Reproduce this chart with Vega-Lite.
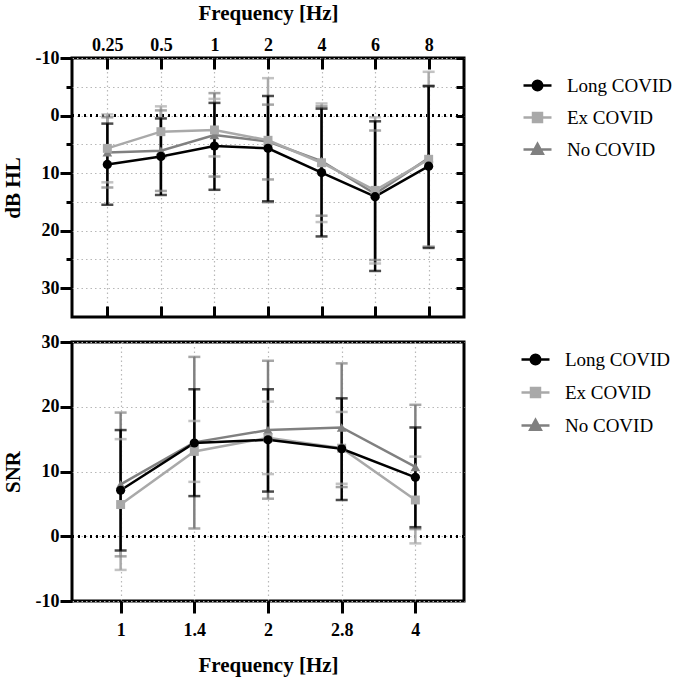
{
  "$schema": "https://vega.github.io/schema/vega-lite/v6.json",
  "padding": {"left": 0, "top": 0, "right": 5, "bottom": 0},
  "config": {
    "font": "Liberation Serif",
    "view": {"stroke": "black", "strokeWidth": 3},
    "axis": {"labelFont": "Liberation Serif", "titleFont": "Liberation Serif", "labelFontWeight": "bold", "titleFontWeight": "bold", "labelFontSize": 18, "titleFontSize": 21, "labelColor": "black", "titleColor": "black", "tickColor": "black", "tickWidth": 3, "domain": false, "gridColor": "#b8b8b8", "gridDash": [1.5, 3], "gridWidth": 1.2},
    "legend": {"labelFont": "Liberation Serif", "labelFontSize": 19, "labelColor": "black"}
  },
  "datasets": {
    "pta": [
      {"freq": "0.25", "group": "No COVID", "mean": 6.4, "lo": 0.3, "hi": 12.5},
      {"freq": "0.5", "group": "No COVID", "mean": 6.1, "lo": -0.9, "hi": 13.1},
      {"freq": "1", "group": "No COVID", "mean": 3.4, "lo": -3.9, "hi": 10.6},
      {"freq": "2", "group": "No COVID", "mean": 4.5, "lo": -1.9, "hi": 11.1},
      {"freq": "4", "group": "No COVID", "mean": 7.9, "lo": -1.6, "hi": 17.4},
      {"freq": "6", "group": "No COVID", "mean": 13.6, "lo": 2.6, "hi": 25.1},
      {"freq": "8", "group": "No COVID", "mean": 7.4, "lo": -5.2, "hi": 22.8},
      {"freq": "0.25", "group": "Ex COVID", "mean": 5.7, "lo": -0.2, "hi": 11.6},
      {"freq": "0.5", "group": "Ex COVID", "mean": 2.8, "lo": -1.6, "hi": 7.2},
      {"freq": "1", "group": "Ex COVID", "mean": 2.5, "lo": -2.9, "hi": 7.1},
      {"freq": "2", "group": "Ex COVID", "mean": 4.3, "lo": -6.5, "hi": 15.1},
      {"freq": "4", "group": "Ex COVID", "mean": 8.2, "lo": -2.1, "hi": 18.5},
      {"freq": "6", "group": "Ex COVID", "mean": 13.0, "lo": 0.3, "hi": 25.7},
      {"freq": "8", "group": "Ex COVID", "mean": 7.6, "lo": -7.6, "hi": 22.8},
      {"freq": "0.25", "group": "Long COVID", "mean": 8.5, "lo": 1.4, "hi": 15.5},
      {"freq": "0.5", "group": "Long COVID", "mean": 7.1, "lo": 0.5, "hi": 13.8},
      {"freq": "1", "group": "Long COVID", "mean": 5.3, "lo": -2.2, "hi": 12.9},
      {"freq": "2", "group": "Long COVID", "mean": 5.7, "lo": -3.4, "hi": 14.9},
      {"freq": "4", "group": "Long COVID", "mean": 9.9, "lo": -1.2, "hi": 21.0},
      {"freq": "6", "group": "Long COVID", "mean": 14.1, "lo": 1.0, "hi": 27.0},
      {"freq": "8", "group": "Long COVID", "mean": 8.8, "lo": -5.1, "hi": 23.0}
    ],
    "snr": [
      {"freq": "1", "group": "No COVID", "mean": 8.0, "lo": -3.1, "hi": 19.1},
      {"freq": "1.4", "group": "No COVID", "mean": 14.5, "lo": 1.2, "hi": 27.7},
      {"freq": "2", "group": "No COVID", "mean": 16.4, "lo": 5.8, "hi": 27.1},
      {"freq": "2.8", "group": "No COVID", "mean": 16.8, "lo": 7.6, "hi": 26.7},
      {"freq": "4", "group": "No COVID", "mean": 10.7, "lo": 1.1, "hi": 20.3},
      {"freq": "1", "group": "Ex COVID", "mean": 4.9, "lo": -5.2, "hi": 15.0},
      {"freq": "1.4", "group": "Ex COVID", "mean": 13.1, "lo": 8.4, "hi": 17.8},
      {"freq": "2", "group": "Ex COVID", "mean": 15.2, "lo": 9.6, "hi": 20.8},
      {"freq": "2.8", "group": "Ex COVID", "mean": 13.6, "lo": 8.1, "hi": 19.2},
      {"freq": "4", "group": "Ex COVID", "mean": 5.6, "lo": -1.1, "hi": 12.3},
      {"freq": "1", "group": "Long COVID", "mean": 7.1, "lo": -2.2, "hi": 16.4},
      {"freq": "1.4", "group": "Long COVID", "mean": 14.4, "lo": 6.2, "hi": 22.7},
      {"freq": "2", "group": "Long COVID", "mean": 14.9, "lo": 6.9, "hi": 22.7},
      {"freq": "2.8", "group": "Long COVID", "mean": 13.5, "lo": 5.6, "hi": 21.3},
      {"freq": "4", "group": "Long COVID", "mean": 9.1, "lo": 1.4, "hi": 16.8}
    ]
  },
  "vconcat": [
    {
      "width": 392,
      "height": 259,
      "data": {"name": "pta"},
      "resolve": {"axis": {"x": "independent", "y": "independent"}},
      "encoding": {
        "x": {"field": "freq", "type": "nominal", "sort": ["0.25", "0.5", "1", "2", "4", "6", "8"], "scale": {"type": "point", "padding": 0.66}, "axis": null},
        "color": {"field": "group", "type": "nominal", "scale": {"domain": ["Long COVID", "Ex COVID", "No COVID"], "range": ["#000000", "#a9a9a9", "#808080"]},
          "legend": {"title": null, "orient": "right", "offset": 44, "padding": 12, "symbolSize": 784, "labelOffset": 14, "rowPadding": 6,
            "encode": {"symbols": {"update": {
              "shape": {"signal": "datum.value === 'Long COVID' ? 'M-1,0H1M0.34,0A0.34,0.34,0,1,1,-0.34,0A0.34,0.34,0,1,1,0.34,0Z' : datum.value === 'Ex COVID' ? 'M-1,0H1M-0.32,-0.32H0.32V0.32H-0.32Z' : 'M-1,0H1M0,-0.4L0.38,0.3L-0.38,0.3Z'"},
              "fill": {"signal": "datum.value === 'Long COVID' ? '#000000' : datum.value === 'Ex COVID' ? '#a9a9a9' : '#808080'"},
              "stroke": {"signal": "datum.value === 'Long COVID' ? '#000000' : datum.value === 'Ex COVID' ? '#a9a9a9' : '#808080'"},
              "strokeWidth": {"value": 2.5},
              "opacity": {"value": 1}
            }}}}}
      },
      "layer": [
        {
          "mark": {"type": "rule", "color": "black", "strokeWidth": 2.4, "strokeDash": [2, 4]},
          "encoding": {"x": null, "color": null, "y": {"datum": 0, "type": "quantitative", "scale": {"domain": [-10, 35], "reverse": true, "nice": false}, "axis": null}}
        },
        {
          "mark": {"type": "rule", "strokeWidth": 2.5},
          "encoding": {
            "x": {"field": "freq", "type": "nominal", "sort": ["0.25", "0.5", "1", "2", "4", "6", "8"], "scale": {"type": "point", "padding": 0.66},
              "axis": {"orient": "top", "title": "Frequency [Hz]", "labelAngle": 0, "tickSize": -11, "labelPadding": 15, "titlePadding": 13, "grid": true}},
            "y": {"field": "lo", "type": "quantitative", "scale": {"domain": [-10, 35], "reverse": true, "nice": false},
              "axis": {"orient": "left", "title": "dB HL", "values": [-10, -5, 0, 5, 10, 15, 20, 25, 30], "labelExpr": "datum.value % 10 === 0 ? toString(datum.value) : ''", "tickSize": {"condition": {"test": "datum.value % 10 === 0", "value": 12}, "value": 6}, "labelPadding": 1, "titlePadding": 12, "grid": true}},
            "y2": {"field": "hi"}
          }
        },
        {
          "mark": {"type": "tick", "size": 12, "thickness": 2.5, "orient": "horizontal"},
          "encoding": {"y": {"field": "lo", "type": "quantitative", "scale": {"domain": [-10, 35], "reverse": true, "nice": false}, "axis": null}}
        },
        {
          "mark": {"type": "tick", "size": 12, "thickness": 2.5, "orient": "horizontal"},
          "encoding": {"y": {"field": "hi", "type": "quantitative", "scale": {"domain": [-10, 35], "reverse": true, "nice": false}, "axis": null}}
        },
        {
          "mark": {"type": "line", "strokeWidth": 2.5},
          "encoding": {
            "x": {"field": "freq", "type": "nominal", "sort": ["0.25", "0.5", "1", "2", "4", "6", "8"], "scale": {"type": "point", "padding": 0.66},
              "axis": {"orient": "bottom", "title": null, "labels": false, "tickSize": -11, "grid": false, "minExtent": 0, "maxExtent": 0}},
            "y": {"field": "mean", "type": "quantitative", "scale": {"domain": [-10, 35], "reverse": true, "nice": false},
              "axis": {"orient": "right", "title": null, "labels": false, "values": [-10, -5, 0, 5, 10, 15, 20, 25, 30], "tickSize": -8, "grid": false, "minExtent": 0, "maxExtent": 0}}
          }
        },
        {
          "transform": [{"filter": "datum.group === 'No COVID'"}],
          "mark": {"type": "point", "filled": true, "opacity": 1, "size": 95, "shape": "triangle-up", "color": "#808080"},
          "encoding": {"color": null, "y": {"field": "mean", "type": "quantitative", "scale": {"domain": [-10, 35], "reverse": true, "nice": false}, "axis": null}}
        },
        {
          "transform": [{"filter": "datum.group === 'Ex COVID'"}],
          "mark": {"type": "point", "filled": true, "opacity": 1, "size": 80, "shape": "square", "color": "#a9a9a9"},
          "encoding": {"color": null, "y": {"field": "mean", "type": "quantitative", "scale": {"domain": [-10, 35], "reverse": true, "nice": false}, "axis": null}}
        },
        {
          "transform": [{"filter": "datum.group === 'Long COVID'"}],
          "mark": {"type": "point", "filled": true, "opacity": 1, "size": 85, "shape": "circle", "color": "#000000"},
          "encoding": {"color": null, "y": {"field": "mean", "type": "quantitative", "scale": {"domain": [-10, 35], "reverse": true, "nice": false}, "axis": null}}
        }
      ]
    },
    {
      "width": 392,
      "height": 259,
      "data": {"name": "snr"},
      "encoding": {
        "x": {"field": "freq", "type": "nominal", "sort": ["1", "1.4", "2", "2.8", "4"], "scale": {"type": "point", "padding": 0.66},
          "axis": {"orient": "bottom", "title": "Frequency [Hz]", "labelAngle": 0, "tickSize": 12, "labelPadding": 8, "titlePadding": 15, "grid": true}},
        "color": {"field": "group", "type": "nominal", "scale": {"domain": ["Long COVID", "Ex COVID", "No COVID"], "range": ["#000000", "#a9a9a9", "#808080"]},
          "legend": {"title": null, "orient": "right", "offset": 54, "padding": 2, "symbolSize": 784, "labelOffset": 14, "rowPadding": 7,
            "encode": {"symbols": {"update": {
              "shape": {"signal": "datum.value === 'Long COVID' ? 'M-1,0H1M0.34,0A0.34,0.34,0,1,1,-0.34,0A0.34,0.34,0,1,1,0.34,0Z' : datum.value === 'Ex COVID' ? 'M-1,0H1M-0.32,-0.32H0.32V0.32H-0.32Z' : 'M-1,0H1M0,-0.4L0.38,0.3L-0.38,0.3Z'"},
              "fill": {"signal": "datum.value === 'Long COVID' ? '#000000' : datum.value === 'Ex COVID' ? '#a9a9a9' : '#808080'"},
              "stroke": {"signal": "datum.value === 'Long COVID' ? '#000000' : datum.value === 'Ex COVID' ? '#a9a9a9' : '#808080'"},
              "strokeWidth": {"value": 2.5},
              "opacity": {"value": 1}
            }}}}}
      },
      "layer": [
        {
          "mark": {"type": "rule", "color": "black", "strokeWidth": 2.4, "strokeDash": [2, 4]},
          "encoding": {"x": null, "color": null, "y": {"datum": 0, "type": "quantitative", "scale": {"domain": [-10, 30], "nice": false},
            "axis": {"orient": "left", "title": "SNR", "values": [-10, 0, 10, 20, 30], "labelExpr": "toString(datum.value)", "tickSize": 12, "labelPadding": 1, "titlePadding": 12, "grid": true}}}
        },
        {
          "mark": {"type": "rule", "strokeWidth": 2.5},
          "encoding": {
            "y": {"field": "lo", "type": "quantitative"},
            "y2": {"field": "hi"}
          }
        },
        {
          "mark": {"type": "tick", "size": 12, "thickness": 2.5, "orient": "horizontal"},
          "encoding": {"y": {"field": "lo", "type": "quantitative"}}
        },
        {
          "mark": {"type": "tick", "size": 12, "thickness": 2.5, "orient": "horizontal"},
          "encoding": {"y": {"field": "hi", "type": "quantitative"}}
        },
        {
          "mark": {"type": "line", "strokeWidth": 2.5},
          "encoding": {"y": {"field": "mean", "type": "quantitative"}}
        },
        {
          "transform": [{"filter": "datum.group === 'No COVID'"}],
          "mark": {"type": "point", "filled": true, "opacity": 1, "size": 95, "shape": "triangle-up", "color": "#808080"},
          "encoding": {"color": null, "y": {"field": "mean", "type": "quantitative"}}
        },
        {
          "transform": [{"filter": "datum.group === 'Ex COVID'"}],
          "mark": {"type": "point", "filled": true, "opacity": 1, "size": 80, "shape": "square", "color": "#a9a9a9"},
          "encoding": {"color": null, "y": {"field": "mean", "type": "quantitative"}}
        },
        {
          "transform": [{"filter": "datum.group === 'Long COVID'"}],
          "mark": {"type": "point", "filled": true, "opacity": 1, "size": 85, "shape": "circle", "color": "#000000"},
          "encoding": {"color": null, "y": {"field": "mean", "type": "quantitative"}}
        }
      ]
    }
  ],
  "spacing": 11,
  "resolve": {"scale": {"color": "independent"}, "legend": {"color": "independent"}}
}
